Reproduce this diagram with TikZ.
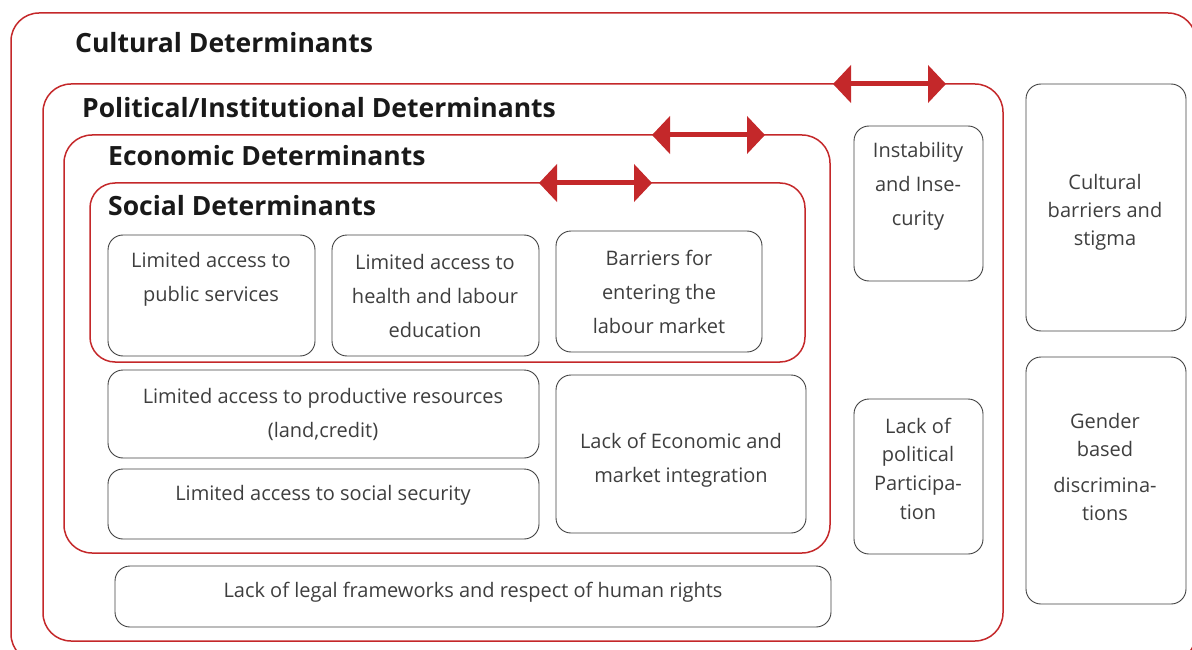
\documentclass[tikz,border=0pt]{standalone}
\usepackage{fontspec}
\setmainfont{Open Sans}
\usetikzlibrary{arrows.meta}
\definecolor{dred}{RGB}{196,40,42}
\definecolor{bgray}{RGB}{64,64,64}
\definecolor{tgray}{RGB}{62,62,62}
\newcommand\mkbox[6]{\node[#1, minimum width={(#5-#3)*1pt}, minimum height={(#6-#4)*1pt}] (#2) at ({(#3+#5)/2},{(#4+#6)/2}) {};}
\begin{document}
\begin{tikzpicture}[x=1pt,y=-1pt,
 redbox/.style={draw=dred, line width=1.5pt, rounded corners=28pt, inner sep=0pt, outer sep=0pt},
 gbox/.style={draw=bgray, line width=0.9pt, rounded corners=15pt, inner sep=0pt, outer sep=0pt},
 ttl/.style={anchor=base west, font=\fontsize{26.5}{30}\selectfont\bfseries, text=black!90, inner sep=0pt},
 txt/.style={font=\fontsize{20}{33.8}\selectfont, text=tgray, align=center, inner sep=0pt},
 dbl/.style={draw=dred, line width=5pt, {Triangle[length=18pt,width=37pt]}-{Triangle[length=18pt,width=37pt]}}
]
\useasboundingbox (0,0) rectangle (1192,650);
% red frames
\mkbox{redbox}{cult}{11}{13}{1196}{662}
\mkbox{redbox}{poli}{43}{84}{1003}{641}
\mkbox{redbox}{econ}{64}{135}{830}{553}
\mkbox{redbox, rounded corners=25pt}{soci}{90}{183}{805}{362}
% titles
\node[ttl] (tcult) at (75,53) {Cultural Determinants};
\node[ttl] (tpoli) at (82,118) {Political/Institutional Determinants};
\node[ttl] (tecon) at (108,166) {Economic Determinants};
\node[ttl] (tsoci) at (108,215) {Social Determinants};
% grey boxes
\mkbox{gbox}{b1}{108}{235}{315}{356}
\mkbox{gbox}{b2}{332}{235}{539}{356}
\mkbox{gbox}{b3}{556}{231}{762}{352}
\mkbox{gbox}{b4}{108}{370}{539}{458}
\mkbox{gbox}{b5}{108}{469}{539}{539}
\mkbox{gbox}{b6}{556}{375}{806}{533}
\mkbox{gbox}{b7}{115}{566}{831}{627}
\mkbox{gbox}{b8}{854}{126}{983}{281}
\mkbox{gbox}{b9}{854}{399}{983}{554}
\mkbox{gbox}{b10}{1026}{84}{1186}{331}
\mkbox{gbox}{b11}{1026}{357}{1186}{604}
% texts
\node[txt] (t1) at (211,279) {Limited access to\\public services};
\node[txt] (t2) at (435,296) {Limited access to\\health and labour\\education};
\node[txt] (t3) at (659,292) {Barriers for\\entering the\\labour market};
\node[txt] (t4) at (323,414.5) {Limited access to productive resources\\(land,credit)};
\node[txt] (t5) at (323,495.5) {Limited access to social security};
\node[txt] (t6) at (681,460.5) {Lack of Economic and\\market integration};
\node[txt] (t7) at (473,592.5) {Lack of legal frameworks and respect of human rights};
\node[txt] (t8) at (918,186.5) {Instability\\and Inse-\\curity};
\node[txt, font=\fontsize{20}{28.7}\selectfont] (t9) at (918,468.5) {Lack of\\political\\Participa-\\tion};
\node[txt, font=\fontsize{20}{28}\selectfont] (t10) at (1105,212.5) {Cultural\\barriers and\\stigma};
\node[txt, font=\fontsize{20}{28}\selectfont] (t11) at (1105,466.5) {Gender\\based\\[8pt]discrimina-\\tions};
% double arrows on the frame tops
\coordinate (a1l) at (833,84);  \coordinate (a1r) at (946,84);
\coordinate (a2l) at (652,135); \coordinate (a2r) at (765,135);
\coordinate (a3l) at (539,183); \coordinate (a3r) at (652,183);
\draw[dbl] (a1l) -- (a1r);
\draw[dbl] (a2l) -- (a2r);
\draw[dbl] (a3l) -- (a3r);
\end{tikzpicture}
\end{document}
